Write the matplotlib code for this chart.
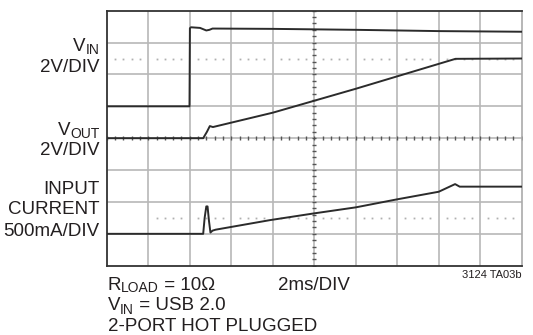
import numpy as np
import matplotlib
matplotlib.use("Agg")
import matplotlib.pyplot as plt
from matplotlib.transforms import IdentityTransform

plt.rcParams['font.family'] = ['Liberation Sans Narrow', 'Liberation Sans', 'DejaVu Sans']

# scope screen: time in ms (2ms/DIV, 10 div), traces in screen divisions (8 div)
t_vin = [0, 3.99, 4.01, 4.06, 4.5, 4.65, 4.8, 4.95, 5.1, 8.0, 12.0, 16.0, 20.0]
vin = [5.0, 5.0, 7.45, 7.48, 7.46, 7.42, 7.38, 7.40, 7.44, 7.43, 7.40, 7.36, 7.34]

t_vout = [0, 4.65, 4.83, 4.97, 5.12, 8.0, 12.0, 16.81, 20.0]
vout = [4.0, 4.0, 4.2, 4.38, 4.35, 4.8, 5.55, 6.49, 6.50]

t_iin = [0, 4.65, 4.72, 4.80, 4.86, 4.93, 5.0, 5.1, 5.25, 7.87, 9.98, 12.0,
         13.98, 16.0, 16.79, 17.01, 20.0]
iin = [1.0, 1.0, 1.5, 1.86, 1.86, 1.4, 1.04, 1.1, 1.13, 1.43, 1.64, 1.83,
       2.08, 2.32, 2.56, 2.48, 2.48]

# dotted reference levels (div) and where they start (ms)
ref_levels = [6.5, 1.5]
ref_starts = [0, 2]

W, H = 533, 335
ink = '#231f20'
trace = '#2b2b2b'
gridc = '#b8b8b8'

fig = plt.figure(figsize=(W / 100, H / 100), dpi=100)
ax = fig.add_axes([106.7 / W, 1 - 265.7 / H, 415 / W, 255 / H])
ax.set_xlim(0, 20)
ax.set_ylim(0, 8)

# graticule
for x in np.arange(2, 20, 2):
    ax.axvline(x, color=gridc, lw=1.2, zorder=1)
for y in np.arange(1, 8, 1):
    ax.axhline(y, color=gridc, lw=1.2, zorder=1)

# center axis tick marks every 0.2 div
cx = np.arange(0, 20.01, 0.4)
cy = np.arange(0, 8.01, 0.2)
ax.plot(cx, np.full_like(cx, 4.0), ls='none', marker='|', ms=3, mew=1.0,
        color='#555555', zorder=2)
ax.plot(np.full_like(cy, 10.0), cy, ls='none', marker='_', ms=3, mew=1.0,
        color='#555555', zorder=2)

# dotted reference lines
for lvl, start in zip(ref_levels, ref_starts):
    dx = np.arange(start, 20.0, 0.4)
    dx = dx[np.abs(dx / 2 - np.round(dx / 2)) > 0.05]
    ax.plot(dx, np.full_like(dx, lvl), ls='none', marker='s', ms=1.3,
            color='#b0b0b0', mew=0, zorder=1)

ax.plot(t_vin, vin, color=trace, lw=1.4, zorder=3)
ax.plot(t_vout, vout, color=trace, lw=1.4, zorder=3)
ax.plot(t_iin, iin, color=trace, lw=1.4, zorder=3)

ax.set_xticks([])
ax.set_yticks([])
for side in ['left', 'top', 'bottom']:
    ax.spines[side].set_color('#333333')
    ax.spines[side].set_linewidth(1.3)
ax.spines['right'].set_color('#aaaaaa')
ax.spines['right'].set_linewidth(1.2)

renderer = fig.canvas.get_renderer()


def label(x, y, parts, ha='left'):
    # parts: (string, fontsize, drop in px); x, y are pixels from top-left
    objs = []
    widths = []
    for s, size, dy in parts:
        t = fig.text(0, 0, s, fontsize=size, color=ink, va='baseline',
                     transform=IdentityTransform())
        widths.append(t.get_window_extent(renderer).width)
        objs.append(t)
    x0 = x - sum(widths) if ha == 'right' else x
    for t, w, (s, size, dy) in zip(objs, widths, parts):
        t.set_position((x0, H - y - dy))
        x0 += w


big, small = 13.5, 10
label(99.5, 51, [('V', big, 0), ('IN', small, 3)], ha='right')
label(99.5, 71.5, [('2V/DIV', big, 0)], ha='right')
label(99.5, 135, [('V', big, 0), ('OUT', small, 3)], ha='right')
label(99.5, 155, [('2V/DIV', big, 0)], ha='right')
label(99.5, 193.5, [('INPUT', big, 0)], ha='right')
label(99.5, 214.5, [('CURRENT', big, 0)], ha='right')
label(99.5, 235.5, [('500mA/DIV', big, 0)], ha='right')

label(107.5, 289.5, [('R', big, 0), ('LOAD', small, 3), (' = 10Ω', big, 0)])
label(107.5, 310.5, [('V', big, 0), ('IN', small, 3), (' = USB 2.0', big, 0)])
label(107.5, 331, [('2-PORT HOT PLUGGED', big, 0)])
label(278, 289.5, [('2ms/DIV', big, 0)])
label(521.5, 278.5, [('3124 TA03b', 8, 0)], ha='right')

fig.savefig('out.png', dpi=100)
